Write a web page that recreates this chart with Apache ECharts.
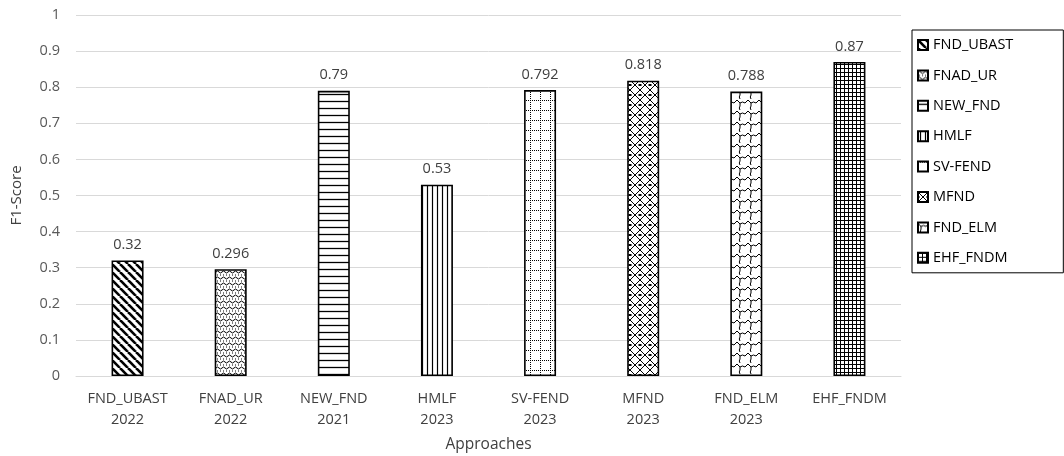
<!DOCTYPE html>
<html>
<head>
<meta charset="utf-8">
<script src="https://cdn.jsdelivr.net/npm/echarts@6/dist/echarts.min.js"></script>
<style>
  html, body { margin: 0; padding: 0; background: #fff; }
  #chart { width: 1064px; height: 456px; }
</style>
</head>
<body>
<div id="chart"></div>
<script>
// Approaches compared by F1-score
const categories = ['FND_UBAST\n2022', 'FNAD_UR\n2022', 'NEW_FND\n2021', 'HMLF\n2023',
                    'SV-FEND\n2023', 'MFND\n2023', 'FND_ELM\n2023', 'EHF_FNDM'];
const seriesNames = ['FND_UBAST', 'FNAD_UR', 'NEW_FND', 'HMLF', 'SV-FEND', 'MFND', 'FND_ELM', 'EHF_FNDM'];
const f1Scores = [0.32, 0.296, 0.79, 0.53, 0.792, 0.818, 0.788, 0.87];
const yTicks = [0, 0.1, 0.2, 0.3, 0.4, 0.5, 0.6, 0.7, 0.8, 0.9, 1];

// Monochrome fill patterns, one per approach
function pattern(size, draw) {
  const c = document.createElement('canvas');
  c.width = size; c.height = size;
  const ctx = c.getContext('2d');
  ctx.fillStyle = '#fff';
  ctx.fillRect(0, 0, size, size);
  ctx.strokeStyle = '#000';
  ctx.fillStyle = '#000';
  draw(ctx, size);
  return { image: c, repeat: 'repeat' };
}

const fills = [
  // thick descending diagonals
  pattern(8, (ctx, s) => {
    ctx.lineWidth = 2.6;
    for (let k = -1; k <= 1; k++) {
      ctx.beginPath(); ctx.moveTo(k * s, 0); ctx.lineTo(k * s + s, s); ctx.stroke();
    }
  }),
  // small waves with dots
  pattern(6, (ctx, s) => {
    ctx.lineWidth = 1;
    ctx.beginPath();
    ctx.moveTo(0, 2); ctx.quadraticCurveTo(1.5, 0, 3, 2); ctx.quadraticCurveTo(4.5, 4, 6, 2);
    ctx.stroke();
    ctx.fillRect(1, 4.5, 1, 1); ctx.fillRect(4, 4.5, 1, 1);
  }),
  // horizontal lines
  pattern(7, (ctx, s) => {
    ctx.lineWidth = 1.3;
    ctx.beginPath(); ctx.moveTo(0, 3.5); ctx.lineTo(s, 3.5); ctx.stroke();
  }),
  // vertical lines
  pattern(5, (ctx, s) => {
    ctx.lineWidth = 1.2;
    ctx.beginPath(); ctx.moveTo(2.5, 0); ctx.lineTo(2.5, s); ctx.stroke();
  }),
  // dotted grid
  pattern(10, (ctx, s) => {
    for (let i = 0; i < s; i += 2) {
      ctx.fillRect(i, 0, 1, 1);
      ctx.fillRect(0, i, 1, 1);
    }
  }),
  // diamond lattice
  pattern(10, (ctx, s) => {
    ctx.lineWidth = 1;
    ctx.beginPath();
    ctx.moveTo(0, 0); ctx.lineTo(s, s);
    ctx.moveTo(s, 0); ctx.lineTo(0, s);
    ctx.stroke();
    ctx.fillRect(0, 4, 1.5, 2); ctx.fillRect(8.5, 4, 1.5, 2);
  }),
  // shingle zigzag
  pattern(11, (ctx, s) => {
    ctx.lineWidth = 1;
    ctx.beginPath();
    ctx.moveTo(0, 1); ctx.lineTo(3, 4); ctx.quadraticCurveTo(5.5, 2, 8, 4); ctx.lineTo(11, 1);
    ctx.moveTo(3, 4); ctx.lineTo(3, 7); ctx.quadraticCurveTo(1.5, 9, 3, 11);
    ctx.stroke();
  }),
  // fine square grid
  pattern(4, (ctx, s) => {
    ctx.lineWidth = 1;
    ctx.beginPath();
    ctx.moveTo(0, 0.5); ctx.lineTo(s, 0.5);
    ctx.moveTo(0.5, 0); ctx.lineTo(0.5, s);
    ctx.stroke();
  })
];

const series = seriesNames.map((name, i) => ({
  name: name,
  type: 'bar',
  stack: 'all',
  barWidth: 32,
  data: f1Scores.map((v, j) => (j === i ? v : '-')),
  itemStyle: { color: fills[i], borderColor: '#000', borderWidth: 1.6 },
  label: {
    show: true,
    position: 'top',
    distance: 8,
    color: '#404040',
    fontSize: 14.5,
    fontFamily: 'Open Sans'
  }
}));

const chart = echarts.init(document.getElementById('chart'), null, { renderer: 'canvas' });
chart.setOption({
  animation: false,
  backgroundColor: '#fff',
  textStyle: { fontFamily: 'Open Sans' },
  grid: { left: 76, right: 163, top: 15, bottom: 80, containLabel: false, outerBoundsMode: 'none' },
  legend: {
    orient: 'vertical',
    left: 912,
    top: 30,
    padding: [7, 50, 7, 5],
    icon: 'rect',
    itemWidth: 10,
    itemHeight: 10,
    itemGap: 14.4,
    borderColor: '#000',
    borderWidth: 1,
    textStyle: { color: '#000', fontSize: 14.5, lineHeight: 16, fontFamily: 'Open Sans' },
    data: seriesNames
  },
  xAxis: {
    type: 'category',
    data: categories,
    name: 'Approaches',
    nameLocation: 'middle',
    nameGap: 61,
    nameTextStyle: { color: '#404040', fontSize: 15.5 },
    axisLine: { lineStyle: { color: '#d9d9d9', width: 1 } },
    axisTick: { show: false },
    axisLabel: { interval: 0, color: '#404040', fontSize: 14.5, lineHeight: 21, margin: 12 }
  },
  yAxis: {
    type: 'value',
    min: 0,
    max: 1,
    interval: 0.1,
    name: 'F1-Score',
    nameLocation: 'middle',
    nameGap: 52,
    nameRotate: 90,
    nameTextStyle: { color: '#404040', fontSize: 15 },
    axisLine: { show: false },
    axisTick: { show: false },
    axisLabel: {
      color: '#595959', fontSize: 14.5, margin: 16,
      formatter: v => yTicks.find(t => Math.abs(t - v) < 1e-9) !== undefined ? String(+v.toFixed(1)) : ''
    },
    splitLine: { lineStyle: { color: '#d9d9d9', width: 1 } }
  },
  series: series
});
</script>
</body>
</html>
